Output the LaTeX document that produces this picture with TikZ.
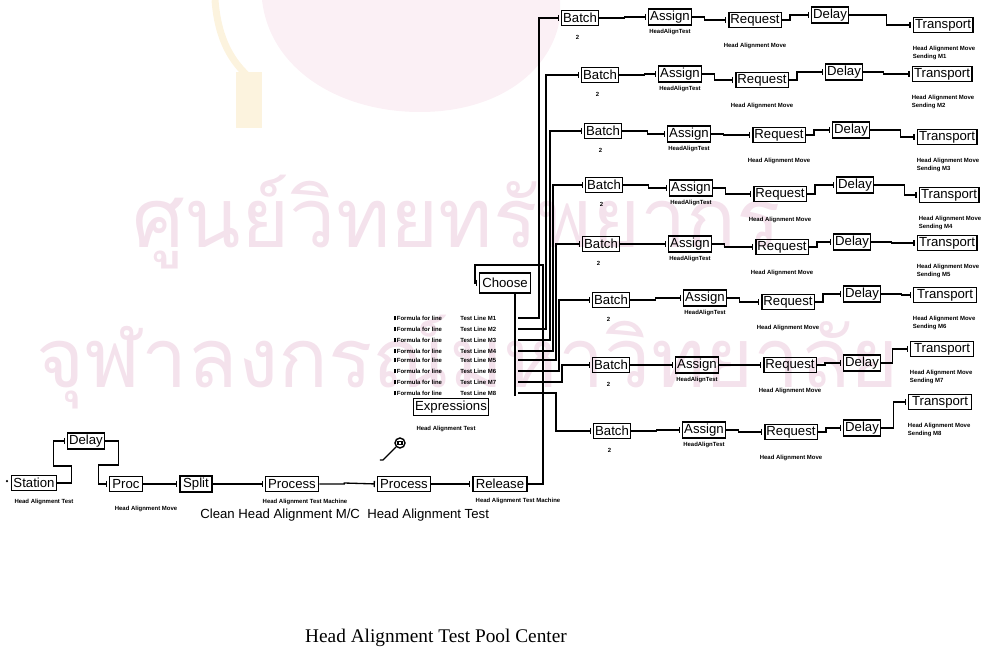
\documentclass[tikz,border=0pt]{standalone}
\usepackage{fontspec}
\setmainfont{Liberation Serif}
\newfontfamily\arenafont{Liberation Sans}
\newfontfamily\thaifont[Script=Thai]{Loma}
\usetikzlibrary{arrows.meta}
\definecolor{rosa}{RGB}{244,226,236}
\definecolor{rosachiaro}{RGB}{251,240,245}
\definecolor{oro}{RGB}{252,243,222}

\begin{document}
\begin{tikzpicture}[
    x=0.02cm, y=-0.02cm,   % un'unita = un pixel del modello
    modulo/.style={draw=black, line width=0.9pt, inner sep=1pt, minimum height=0.3cm,
                   font=\arenafont\fontsize{7.5}{8}\selectfont},
    etichetta/.style={inner sep=0pt, align=left, font=\arenafont\fontsize{3.4}{4.4}\selectfont\bfseries},
    nota/.style={inner sep=0pt, font=\arenafont\fontsize{7.5}{8}\selectfont},
    filo/.style={draw=black, line width=0.75pt, -{Bar[width=3.5pt]}, shorten >=1pt},
    filigrana/.style={text=rosa, inner sep=0pt, font=\thaifont\fontsize{47}{52}\selectfont},
    titolo/.style={font=\fontsize{11}{13}\selectfont}
]
    \useasboundingbox (0,0) rectangle (998,652);

    % =========================================================================
    % 0. FILIGRANA DI SFONDO
    % =========================================================================
    \fill[rosachiaro] (262,0) .. controls (270,70) and (340,112) .. (420,112)
                   .. controls (500,112) and (552,70) .. (560,18) -- (560,0) -- cycle;
    \draw[oro, line width=4pt] (215,0) .. controls (218,40) and (232,62) .. (250,78);
    \fill[oro] (236,72) rectangle (262,128);
    \node[filigrana, anchor=west] (scritta1) at (132,222) {ศูนย์วิทยทรัพยากร};
    \node[filigrana, anchor=west] (scritta2) at (36,362) {จุฬาลงกรณ์มหาวิทยาลัย};

    % =========================================================================
    % 1. LINEA DI INGRESSO (in basso a sinistra)
    % =========================================================================
    \fill (7,481) circle [radius=0.025cm];
    \node[modulo, minimum width=0.9cm] (station) at (34,483) {Station};
    \node[modulo, minimum width=0.74cm] (ritardo) at (86,441) {Delay};
    \node[modulo, minimum width=0.66cm] (proc) at (126,484) {Proc};
    \node[modulo, minimum width=0.64cm] (split) at (196,484) {Split};
    \node[modulo, minimum width=1.06cm] (process1) at (292,484) {Process};
    \node[modulo, minimum width=1.06cm] (process2) at (404,484) {Process};
    \node[modulo, minimum width=1.08cm] (release) at (500,484) {Release};

    % Etichette sotto i moduli
    \node[etichetta] (lstation) at (44,502) {Head Alignment Test};
    \node[etichetta] (lproc) at (146,509) {Head Alignment Move};
    \node[etichetta] (lprocess1) at (305,502) {Head Alignment Test Machine};
    \node[etichetta] (lrelease) at (518,501) {Head Alignment Test Machine};
    \node[nota, anchor=west] (nota1) at (200,515) {Clean Head Alignment M/C};
    \node[nota, anchor=west] (nota2) at (367,515) {Head Alignment Test};

    % Risorsa animata sopra il secondo Process
    \node[circle, draw, line width=0.8pt, inner sep=0pt, minimum size=0.2cm] (risorsa) at (400,443) {};
    \draw[line width=0.6pt] ([xshift=-0.04cm,yshift=-0.03cm]risorsa.center) rectangle ([xshift=0.04cm,yshift=0.03cm]risorsa.center);
    \draw[line width=0.75pt] (risorsa.south west) -- ++(-13,13) -- ++(-3,0);

    % Collegamenti
    \draw[filo] (station.east) -- ++(14,0) -- ++(0,-17) -- ++(-18,0) |- (ritardo.west);
    \draw[filo] (ritardo.east) -- ++(13,0) -- ++(0,24) -- ++(-20,0) |- (proc.west);
    \draw[filo] (proc.east) -- (split.west);
    \draw[filo] (split.east) -- (process1.west);
    \draw[filo] (process1.east) -- ++(25,0) -- ++(0,-1) -- (process2.west);
    \draw[filo] (process2.east) -- (release.west);

    % =========================================================================
    % 2. SCELTA DELLA LINEA (Choose + Expressions)
    % =========================================================================
    \node[modulo, minimum width=1.02cm, minimum height=0.4cm] (choose) at (505,283) {Choose};
    \node[modulo, minimum width=1.5cm, minimum height=0.34cm] (expr) at (451,407) {Expressions};
    \node[etichetta] (lexpr) at (446,429) {Head Alignment Test};
    \draw[filo] (release.east) -| (543,265) -| (475,283) -- (choose.west);
    \coordinate (bus) at (515,396);
    \draw[line width=0.75pt] (choose.south -| bus) -- (bus);

    % =========================================================================
    % 3. OTTO LINEE DI TEST (Batch - Assign - Request - Delay - Transport)
    % =========================================================================
    \foreach \r/\s/\xb/\yb/\xa/\ya/\xq/\yq/\xd/\yd/\xt/\yt/\dt in {
        1/0.9/580/18/670/17/755/20/830/15/943/25/37,
        2/0.95/600/75/680/74/762/80/844/72/942/74/20,
        3/1.0/603/131/689/134/779/135/851/130/947/137/30,
        4/1.0/604/185/691/188/780/194/855/185/949/195/30,
        5/1.0/601/244/690/244/782/247/852/242/947/243/20,
        6/1.15/611/300/705/298/788/302/862/294/945/295/20,
        7/1.15/611/365/697/365/790/365/862/363/942/349/11,
        8/1.15/612/431/704/430/791/432/862/428/940/402/12} {
        \node[modulo, minimum width=\s*0.58cm] (batch\r) at (\xb,\yb) {Batch};
        \node[modulo, minimum width=\s*0.6cm] (assign\r) at (\xa,\ya) {Assign};
        \node[modulo, minimum width=\s*0.84cm] (request\r) at (\xq,\yq) {Request};
        \node[modulo, minimum width=\s*0.64cm] (delay\r) at (\xd,\yd) {Delay};
        \node[modulo, minimum width=\s*1.1cm] (transp\r) at (\xt,\yt) {Transport};

        % etichette
        \node[etichetta, anchor=north] (nb\r) at ([xshift=-0.05cm,yshift=-5pt]batch\r.south) {2};
        \node[etichetta, anchor=north] (na\r) at ([yshift=-1.5pt]assign\r.south) {HeadAlignTest};
        \node[etichetta, anchor=north] (nq\r) at ([yshift=-8pt]request\r.south) {Head Alignment Move};
        \node[etichetta, anchor=north west] (nt\r) at ([yshift=-7pt]transp\r.south west) {Head Alignment Move\\Sending M\r};

        % collegamenti della linea
        \draw[filo] (batch\r.east) -- ++(25,0) |- (assign\r.west);
        \draw[filo] (assign\r.east) -- ++(12,0) |- (request\r.west);
        \draw[filo] (request\r.east) -- ++(8,0) |- (delay\r.west);
        \draw[filo] (delay\r.east) -- ++(\dt,0) |- (transp\r.west);
    }

    % Condizioni del Choose e rami verso ogni Batch
    \foreach \i/\yc/\xv in {1/318/539, 2/329/546, 3/340/550, 4/351/553,
                            5/360/556, 6/371/559, 7/382/562, 8/393/556} {
        \node[etichetta, anchor=west] (cond\i) at (394,\yc) {\rule{0.9pt}{2.6pt}\,Formula for line};
        \node[etichetta, anchor=west] (linea\i) at (460,\yc) {Test Line M\i};
        \coordinate (uscita\i) at (518,\yc);
        \draw[filo] (uscita\i) -- (\xv,\yc) |- (batch\i.west);
    }

    % Titolo
    \node[titolo] (titolo) at (436,638) {Head Alignment Test Pool Center};

\end{tikzpicture}
\end{document}
